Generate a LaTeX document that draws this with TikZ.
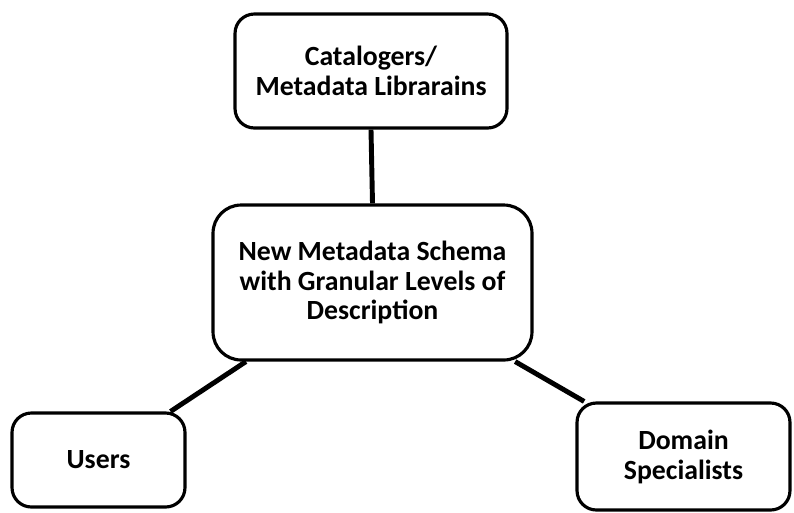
\documentclass[tikz,border=0pt]{standalone}
\usepackage{fontspec}
\setmainfont{Carlito}
\usepackage{tikz}
\usetikzlibrary{positioning}

\begin{document}
\begin{tikzpicture}[
  x=0.02cm, y=-0.02cm, font=\bfseries\fontsize{15.8}{17}\selectfont,
  b/.style={draw, line width=1.8pt, rounded corners=11pt, align=center, fill=white},
  hub/.style={b, rounded corners=16pt}, link/.style={line width=2.8pt}]
\useasboundingbox (0,0) rectangle (794,512);
\node[hub, minimum width=6.38cm, minimum height=3.1cm] (schema) at (372.5,282.5) {New Metadata Schema\\with Granular Levels of\\Description};
\node[b, minimum width=5.44cm, minimum height=2.28cm] (cat) at (371,71) {Catalogers/\\Metadata Librarains};
\node[b, minimum width=3.46cm, minimum height=1.88cm] (users) at (98.5,460) {Users};
\node[b, minimum width=4.26cm, minimum height=2.14cm] (dom) at (683.5,456.5) {Domain\\Specialists};
\foreach \a/\b in {cat.south/schema.north, schema.212/users.34, schema.-29/dom.151} \draw[link] (\a)--(\b);
\end{tikzpicture}
\end{document}
